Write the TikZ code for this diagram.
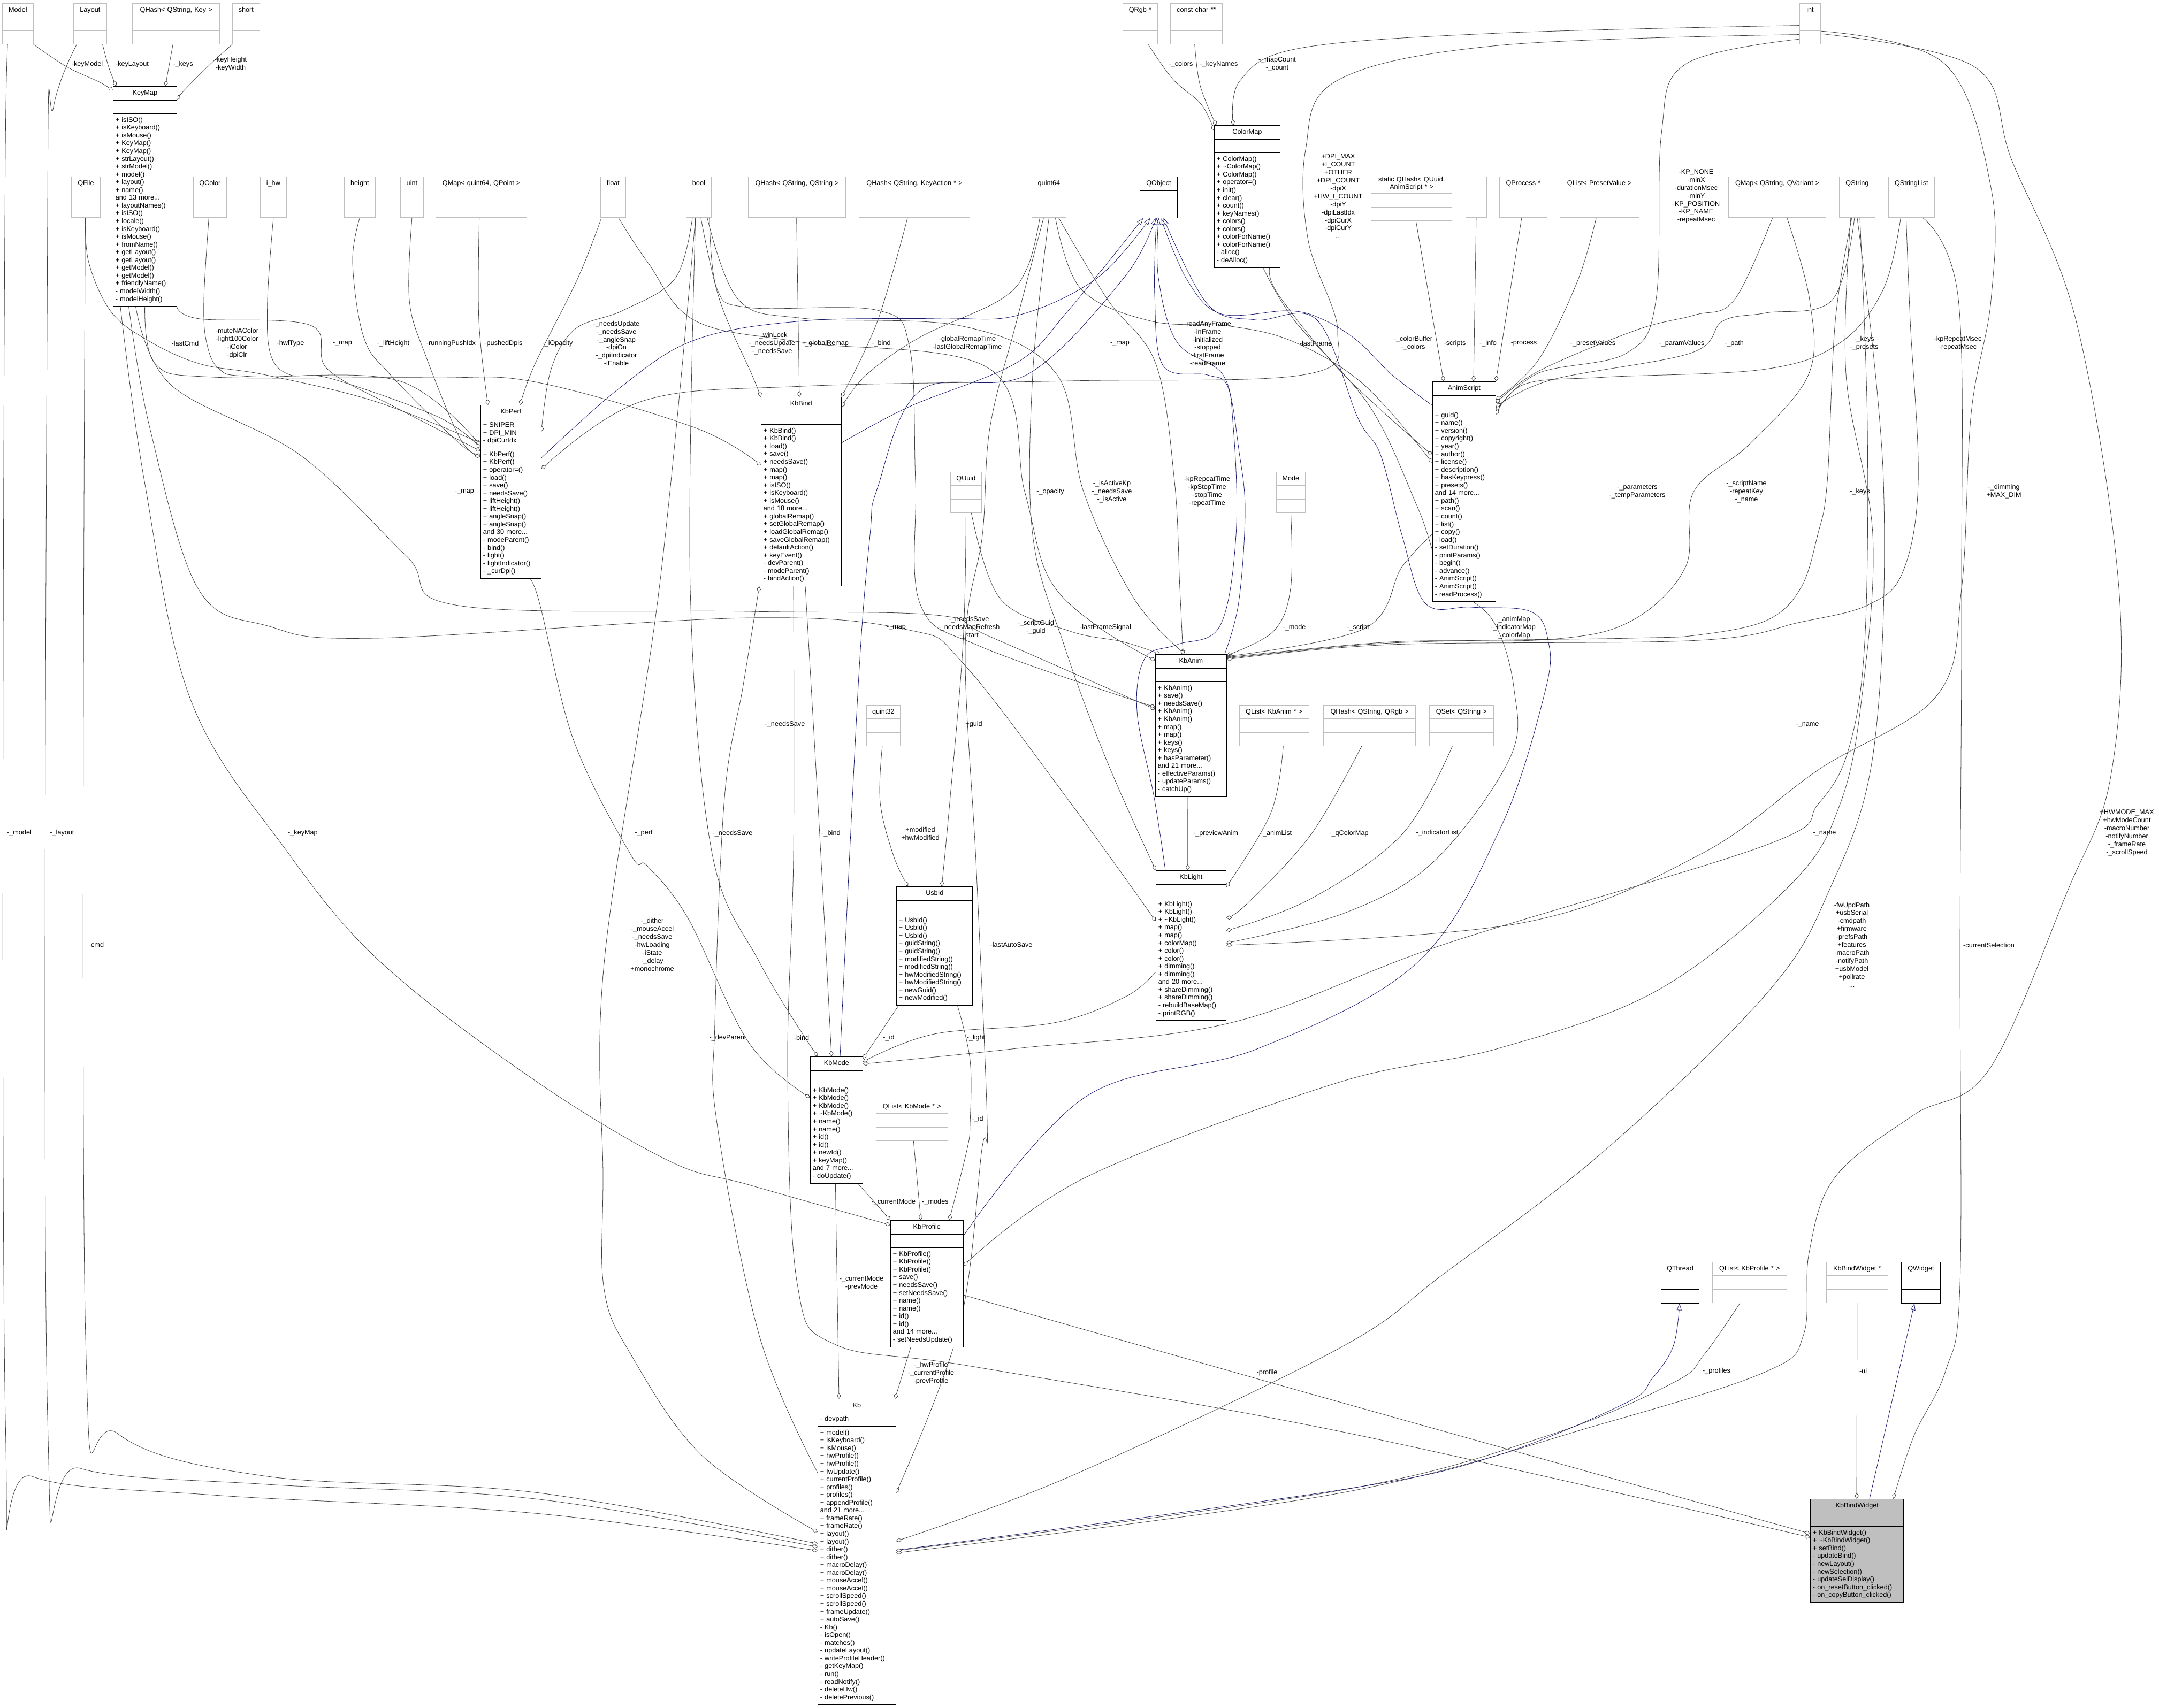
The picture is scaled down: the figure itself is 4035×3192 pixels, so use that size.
\documentclass[tikz,border=0pt]{standalone}
\usepackage{fontspec}
\setmainfont{Liberation Sans}
\usetikzlibrary{arrows.meta,backgrounds,shapes.multipart}
\definecolor{ink}{HTML}{000000}
\definecolor{edge}{HTML}{3F3F3F}
\definecolor{inhline}{HTML}{191970}
\definecolor{extline}{HTML}{BFBFBF}
\definecolor{selfill}{HTML}{BFBFBF}
\newcommand{\boxfont}{\fontsize{9}{10.35}\selectfont}
\newcommand{\lblfont}{\fontsize{9}{10.6}\selectfont}
\newcommand{\xt}[1]{\strut#1\nodepart{two}\strut\nodepart{three}\strut}
\newcommand{\hd}[1]{\strut\hfill#1\hfill\null}
\tikzset{
  cls/.style={rectangle split, rectangle split parts=3, draw=ink, line width=0.8pt,
              fill=white, font=\boxfont, align=left, inner xsep=3pt, inner ysep=3.5pt,
              anchor=north west, text width=#1},
  ext/.style={cls=#1, align=center, draw=extline, line width=0.7pt},
  base/.style={cls=#1, align=center},
  sel/.style={cls=#1, fill=selfill},
  lbl/.style={font=\lblfont, align=center, inner sep=0pt},
  agg/.style={draw=edge, line width=0.55pt, smooth, tension=0.6,
              -{Diamond[fill=white,length=8pt,width=5.5pt]}},
  inh/.style={draw=inhline, line width=0.55pt, smooth, tension=0.6,
              -{Triangle[fill=white,length=9pt,width=6.5pt]}},
}
\begin{document}
\begin{tikzpicture}[x=0.025cm, y=-0.025cm]
\useasboundingbox (0,0) rectangle (4035,3192);
% top row
\node[ext=35.1pt] (model) at (4,6) {\xt{Model}};
\node[ext=37.9pt] (layout) at (137,6) {\xt{Layout}};
\node[ext=110.2pt] (qhkey) at (247,6) {\xt{QHash< QString, Key >}};
\node[ext=30.1pt] (short) at (434,6) {\xt{short}};
\node[ext=40.1pt] (qrgb) at (2098,6) {\xt{QRgb *}};
\node[ext=62.7pt] (cchar) at (2187,6) {\xt{const char **}};
\node[ext=21.6pt] (int) at (3363,6) {\xt{int}};
% second row
\node[ext=32.3pt] (qfile) at (133,330) {\xt{QFile}};
\node[ext=37.9pt] (qcolor) at (361,330) {\xt{QColor}};
\node[ext=28.7pt] (ihw) at (486,330) {\xt{i\_hw}};
\node[ext=35.1pt] (height) at (643,330) {\xt{height}};
\node[ext=24.5pt] (uint) at (748,330) {\xt{uint}};
\node[ext=115.2pt] (qmapqp) at (814,330) {\xt{QMap< quint64, QPoint >}};
\node[ext=27.3pt] (float) at (1122,330) {\xt{float}};
\node[ext=27.3pt] (bool) at (1282,330) {\xt{bool}};
\node[ext=123.7pt] (qhss) at (1398,330) {\xt{QHash< QString, QString >}};
\node[ext=141.4pt] (qhka) at (1605,330) {\xt{QHash< QString, KeyAction * >}};
\node[ext=39.4pt] (quintsf) at (1928,330) {\xt{quint64}};
\node[base=43.6pt] (qobject) at (2130,330) {\xt{QObject}};
\node[ext=101.7pt] (sqhash) at (2562,323) {\xt{static QHash< QUuid,\\AnimScript * >}};
\node[ext=21.6pt] (blank) at (2739,330) {\xt{}};
\node[ext=57.1pt] (qprocess) at (2802,330) {\xt{QProcess *}};
\node[ext=98.9pt] (qlpv) at (2915,330) {\xt{QList< PresetValue >}};
\node[ext=123.7pt] (qmapsv) at (3230,330) {\xt{QMap< QString, QVariant >}};
\node[ext=41.5pt] (qstring) at (3437,330) {\xt{QString}};
\node[ext=54.9pt] (qstrlist) at (3529,330) {\xt{QStringList}};
% middle types
\node[ext=35.1pt] (quuid) at (1776,882) {\xt{QUuid}};
\node[ext=32.3pt] (mode) at (2385,882) {\xt{Mode}};
\node[ext=38.6pt] (quint32) at (1619,1318) {\xt{quint32}};
\node[ext=86.1pt] (qlanim) at (2316,1318) {\xt{QList< KbAnim * >}};
\node[ext=116.6pt] (qhrgb) at (2473,1318) {\xt{QHash< QString, QRgb >}};
\node[ext=79pt] (qsetstr) at (2671,1318) {\xt{QSet< QString >}};
\node[ext=89pt] (qlmode) at (1637,2056) {\xt{QList< KbMode * >}};
\node[base=44.3pt] (qthread) at (3104,2359) {\xt{QThread}};
\node[ext=92.5pt] (qlprof) at (3200,2359) {\xt{QList< KbProfile * >}};
\node[ext=75.5pt] (kbwptr) at (3413,2359) {\xt{KbBindWidget *}};
\node[base=45.7pt] (qwidget) at (3553,2359) {\xt{QWidget}};
% classes
\node[cls=78.3pt] (keymap) at (211,161) {\hd{KeyMap}\nodepart{two}\strut\nodepart{three}\strut
  + isISO()\\+ isKeyboard()\\+ isMouse()\\+ KeyMap()\\+ KeyMap()\\+ strLayout()\\+ strModel()\\+ model()\\+ layout()\\+ name()\\and 13 more...\\+ layoutNames()\\+ isISO()\\+ locale()\\+ isKeyboard()\\+ isMouse()\\+ fromName()\\+ getLayout()\\+ getLayout()\\+ getModel()\\+ getModel()\\+ friendlyName()\\- modelWidth()\\- modelHeight()\strut};
\node[cls=81.2pt] (colormap) at (2269,234) {\hd{ColorMap}\nodepart{two}\strut\nodepart{three}\strut
  + ColorMap()\\+ \textasciitilde ColorMap()\\+ ColorMap()\\+ operator=()\\+ init()\\+ clear()\\+ count()\\+ keyNames()\\+ colors()\\+ colors()\\+ colorForName()\\+ colorForName()\\- alloc()\\- deAlloc()\strut};
\node[cls=74.1pt] (kbperf) at (898,757) {\hd{KbPerf}\nodepart{two}\strut + SNIPER\\+ DPI\_MIN\\- dpiCurIdx\strut\nodepart{three}\strut
  + KbPerf()\\+ KbPerf()\\+ operator=()\\+ load()\\+ save()\\+ needsSave()\\+ liftHeight()\\+ liftHeight()\\+ angleSnap()\\+ angleSnap()\\and 30 more...\\- modeParent()\\- bind()\\- light()\\- lightIndicator()\\- \_curDpi()\strut};
\node[cls=100.3pt] (kbbind) at (1422,742) {\hd{KbBind}\nodepart{two}\strut\nodepart{three}\strut
  + KbBind()\\+ KbBind()\\+ load()\\+ save()\\+ needsSave()\\+ map()\\+ map()\\+ isISO()\\+ isKeyboard()\\+ isMouse()\\and 18 more...\\+ globalRemap()\\+ setGlobalRemap()\\+ loadGlobalRemap()\\+ saveGlobalRemap()\\+ defaultAction()\\+ keyEvent()\\- devParent()\\- modeParent()\\- bindAction()\strut};
\node[cls=77.6pt] (animscript) at (2677,713) {\hd{AnimScript}\nodepart{two}\strut\nodepart{three}\strut
  + guid()\\+ name()\\+ version()\\+ copyright()\\+ year()\\+ author()\\+ license()\\+ description()\\+ hasKeypress()\\+ presets()\\and 14 more...\\+ path()\\+ scan()\\+ count()\\+ list()\\+ copy()\\- load()\\- setDuration()\\- printParams()\\- begin()\\- advance()\\- AnimScript()\\- AnimScript()\\- readProcess()\strut};
\node[cls=88.3pt] (kbanim) at (2159,1223) {\hd{KbAnim}\nodepart{two}\strut\nodepart{three}\strut
  + KbAnim()\\+ save()\\+ needsSave()\\+ KbAnim()\\+ KbAnim()\\+ map()\\+ map()\\+ keys()\\+ keys()\\+ hasParameter()\\and 21 more...\\- effectiveParams()\\- updateParams()\\- catchUp()\strut};
\node[cls=86.8pt] (kblight) at (2160,1627) {\hd{KbLight}\nodepart{two}\strut\nodepart{three}\strut
  + KbLight()\\+ KbLight()\\+ \textasciitilde KbLight()\\+ map()\\+ map()\\+ colorMap()\\+ color()\\+ color()\\+ dimming()\\+ dimming()\\and 20 more...\\+ shareDimming()\\+ shareDimming()\\- rebuildBaseMap()\\- printRGB()\strut};
\node[cls=95.3pt] (usbid) at (1675,1657) {\hd{UsbId}\nodepart{two}\strut\nodepart{three}\strut
  + UsbId()\\+ UsbId()\\+ UsbId()\\+ guidString()\\+ guidString()\\+ modifiedString()\\+ modifiedString()\\+ hwModifiedString()\\+ hwModifiedString()\\+ newGuid()\\+ newModified()\strut};
\node[cls=63.4pt] (kbmode) at (1514,1975) {\hd{KbMode}\nodepart{two}\strut\nodepart{three}\strut
  + KbMode()\\+ KbMode()\\+ KbMode()\\+ \textasciitilde KbMode()\\+ name()\\+ name()\\+ id()\\+ id()\\+ newId()\\+ keyMap()\\and 7 more...\\- doUpdate()\strut};
\node[cls=90.4pt] (kbprofile) at (1664,2281) {\hd{KbProfile}\nodepart{two}\strut\nodepart{three}\strut
  + KbProfile()\\+ KbProfile()\\+ KbProfile()\\+ save()\\+ needsSave()\\+ setNeedsSave()\\+ name()\\+ name()\\+ id()\\+ id()\\and 14 more...\\- setNeedsUpdate()\strut};
\node[cls=97.5pt] (kb) at (1528,2615) {\hd{Kb}\nodepart{two}\strut - devpath\strut\nodepart{three}\strut
  + model()\\+ isKeyboard()\\+ isMouse()\\+ hwProfile()\\+ hwProfile()\\+ fwUpdate()\\+ currentProfile()\\+ profiles()\\+ profiles()\\+ appendProfile()\\and 21 more...\\+ frameRate()\\+ frameRate()\\+ layout()\\+ layout()\\+ dither()\\+ dither()\\+ macroDelay()\\+ macroDelay()\\+ mouseAccel()\\+ mouseAccel()\\+ scrollSpeed()\\+ scrollSpeed()\\+ frameUpdate()\\+ autoSave()\\- Kb()\\- isOpen()\\- matches()\\- updateLayout()\\- writeProfileHeader()\\- getKeyMap()\\- run()\\- readNotify()\\- deleteHw()\\- deletePrevious()\strut};
\node[sel=118pt] (kbw) at (3383,2802) {\hd{KbBindWidget}\nodepart{two}\strut\nodepart{three}\strut
  + KbBindWidget()\\+ \textasciitilde KbBindWidget()\\+ setBind()\\- updateBind()\\- newLayout()\\- newSelection()\\- updateSelDisplay()\\- on\_resetButton\_clicked()\\- on\_copyButton\_clicked()\strut};
% member labels
\node[lbl] (lb-keymodel) at (163,120) {-keyModel};
\node[lbl] (lb-keylayout) at (247,120) {-keyLayout};
\node[lbl] (lb-keys) at (342,120) {-\_keys};
\node[lbl] (lb-keyheight) at (431,120) {-keyHeight\\-keyWidth};
\node[lbl] (lb-colors) at (2207,120) {-\_colors};
\node[lbl] (lb-keynames) at (2278,120) {-\_keyNames};
\node[lbl] (lb-mapcount) at (2387,120) {-\_mapCount\\-\_count};
\node[lbl] (lb-lastcmd) at (346,642) {-lastCmd};
\node[lbl] (lb-mutena) at (443,642) {-muteNAColor\\-light100Color\\-iColor\\-dpiClr};
\node[lbl] (lb-hwltype) at (543,642) {-hwlType};
\node[lbl] (lb-pmap) at (640,642) {-\_map};
\node[lbl] (lb-lift) at (735,642) {-\_liftHeight};
\node[lbl] (lb-runpush) at (843,642) {-runningPushIdx};
\node[lbl] (lb-pushed) at (941,642) {-pushedDpis};
\node[lbl] (lb-iopac) at (1042,642) {-\_iOpacity};
\node[lbl] (lb-pbool) at (1152,642) {-\_needsUpdate\\-\_needsSave\\-\_angleSnap\\-dpiOn\\-\_dpiIndicator\\-iEnable};
\node[lbl] (lb-winlock) at (1443,642) {-\_winLock\\-\_needsUpdate\\-\_needsSave};
\node[lbl] (lb-gremap) at (1543,642) {-\_globalRemap};
\node[lbl] (lb-bbind) at (1647,642) {-\_bind};
\node[lbl] (lb-gtime) at (1808,642) {-globalRemapTime\\-lastGlobalRemapTime};
\node[lbl] (lb-qmap) at (2093,642) {-\_map};
\node[lbl] (lb-frames) at (2257,642) {-readAnyFrame\\-inFrame\\-initialized\\-stopped\\-firstFrame\\-readFrame};
\node[lbl] (lb-lastframe) at (2459,642) {-lastFrame};
\node[lbl] (lb-cbuf) at (2641,642) {-\_colorBuffer\\-\_colors};
\node[lbl] (lb-scripts) at (2719,642) {-scripts};
\node[lbl] (lb-info) at (2781,642) {-\_info};
\node[lbl] (lb-process) at (2848,642) {-process};
\node[lbl] (lb-preset) at (2977,642) {-\_presetValues};
\node[lbl] (lb-paramv) at (3143,642) {-\_paramValues};
\node[lbl] (lb-path) at (3241,642) {-\_path};
\node[lbl] (lb-keyspre) at (3484,642) {-\_keys\\-\_presets};
\node[lbl] (lb-kprep) at (3659,642) {-kpRepeatMsec\\-repeatMsec};
\node[lbl] (lb-dpimax) at (2501,367) {+DPI\_MAX\\+I\_COUNT\\+OTHER\\+DPI\_COUNT\\-dpiX\\+HW\_I\_COUNT\\-dpiY\\-dpiLastIdx\\-dpiCurX\\-dpiCurY\\...};
\node[lbl] (lb-kpnone) at (3170,367) {-KP\_NONE\\-minX\\-durationMsec\\-minY\\-KP\_POSITION\\-KP\_NAME\\-repeatMsec};
\node[lbl] (lb-opacity) at (1963,919) {-\_opacity};
\node[lbl] (lb-isactive) at (2078,919) {-\_isActiveKp\\-\_needsSave\\-\_isActive};
\node[lbl] (lb-kptime) at (2256,919) {-kpRepeatTime\\-kpStopTime\\-stopTime\\-repeatTime};
\node[lbl] (lb-amap) at (868,919) {-\_map};
\node[lbl] (lb-params) at (3060,919) {-\_parameters\\-\_tempParameters};
\node[lbl] (lb-scriptname) at (3264,919) {-\_scriptName\\-repeatKey\\-\_name};
\node[lbl] (lb-akeys) at (3476,919) {-\_keys};
\node[lbl] (lb-dimming) at (3745,919) {-\_dimming\\+MAX\_DIM};
\node[lbl] (lb-maprefresh) at (1811,1173) {-\_needsSave\\-\_needsMapRefresh\\-\_start};
\node[lbl] (lb-lmap) at (1675,1173) {-\_map};
\node[lbl] (lb-guid) at (1936,1173) {-\_scriptGuid\\-\_guid};
\node[lbl] (lb-lfsig) at (2066,1173) {-lastFrameSignal};
\node[lbl] (lb-mode) at (2419,1173) {-\_mode};
\node[lbl] (lb-script) at (2538,1173) {-\_script};
\node[lbl] (lb-animmap) at (2828,1173) {-\_animMap\\-\_indicatorMap\\-\_colorMap};
\node[lbl] (lb-bsave) at (1467,1354) {-\_needsSave};
\node[lbl] (lb-pguid) at (1820,1354) {+guid};
\node[lbl] (lb-msave) at (1369,1558) {-\_needsSave};
\node[lbl] (lb-mbind) at (1553,1558) {-\_bind};
\node[lbl] (lb-modified) at (1720,1558) {+modified\\+hwModified};
\node[lbl] (lb-preview) at (2272,1558) {-\_previewAnim};
\node[lbl] (lb-animlist) at (2385,1558) {-\_animList};
\node[lbl] (lb-qcmap) at (2521,1558) {-\_qColorMap};
\node[lbl] (lb-indlist) at (2686,1557) {-\_indicatorList};
\node[lbl] (lb-mname) at (3378,1355) {-\_name};
\node[lbl] (lb-autosave) at (1890,1766) {-lastAutoSave};
\node[lbl] (lb-devparent) at (1360,1940) {-\_devParent};
\node[lbl] (lb-wbind) at (1498,1940) {-bind};
\node[lbl] (lb-mid) at (1661,1940) {-\_id};
\node[lbl] (lb-light) at (1824,1940) {-\_light};
\node[lbl] (lb-pid) at (1827,2092) {-\_id};
\node[lbl] (lb-keymap) at (566,1557) {-\_keyMap};
\node[lbl] (lb-perf) at (1203,1557) {-\_perf};
\node[lbl] (lb-model) at (36,1557) {-\_model};
\node[lbl] (lb-layout) at (116,1557) {-\_layout};
\node[lbl] (lb-cmd) at (180,1766) {-cmd};
\node[lbl] (lb-dither) at (1219,1766) {-\_dither\\-\_mouseAccel\\-\_needsSave\\-hwLoading\\-iState\\-\_delay\\+monochrome};
\node[lbl] (lb-curmode) at (1670,2247) {-\_currentMode};
\node[lbl] (lb-modes) at (1748,2247) {-\_modes};
\node[lbl] (lb-prevmode) at (1610,2399) {-\_currentMode\\-prevMode};
\node[lbl] (lb-hwprof) at (1740,2567) {-\_hwProfile\\-\_currentProfile\\-prevProfile};
\node[lbl] (lb-profile) at (2368,2566) {-profile};
\node[lbl] (lb-profiles) at (3208,2563) {-\_profiles};
\node[lbl] (lb-ui) at (3482,2563) {-ui};
\node[lbl] (lb-cursel) at (3717,1767) {-currentSelection};
\node[lbl] (lb-hwmode) at (3975,1557) {+HWMODE\_MAX\\+hwModeCount\\-macroNumber\\-notifyNumber\\-\_frameRate\\-\_scrollSpeed};
\node[lbl] (lb-fwupd) at (3461,1766) {-fwUpdPath\\+usbSerial\\-cmdpath\\+firmware\\-prefsPath\\+features\\-macroPath\\-notifyPath\\+usbModel\\+pollrate\\...};
\node[lbl] (lb-pname) at (3410,1558) {-\_name};
\begin{scope}[on background layer]
\fill[white] (0,0) rectangle (4035,3192);
% KeyMap and ColorMap members
\draw[agg] plot coordinates {(model.south east) (125,125) (185,153) ([shift={(0,8)}]keymap.north west)};
\draw[agg] plot coordinates {([shift={(-8,0)}]layout.south east) (203,125) ([shift={(6,0)}]keymap.north west)};
\draw[agg] plot coordinates {([shift={(-6,0)}]qhkey.south) ([shift={(98,0)}]keymap.north west)};
\draw[agg] plot coordinates {(short.south west) (395,118) (345,168) ([shift={(0,26)}]keymap.north east)};
\draw[agg] plot coordinates {([shift={(15,0)}]qrgb.south) (2192,148) (2245,195) ([shift={(0,10)}]colormap.north west)};
\draw[agg] plot coordinates {([shift={(-3,0)}]cchar.south) (2243,160) ([shift={(4,0)}]colormap.north west)};
\draw[agg] plot coordinates {([shift={(0,3)}]int.west) (2800,62) (2430,90) (2318,150) ([shift={(36,0)}]colormap.north west)};
% KbPerf members
\draw[agg] plot coordinates {([shift={(-1,0)}]qfile.south) (166,491) (207,582) (274,635) (373,680) (497,701) (700,750) ([shift={(0,71)}]kbperf.north west)};
\draw[agg] plot coordinates {([shift={(-2,0)}]qcolor.south) (381,560) (386,640) (410,690) (470,704) (746,712) ([shift={(0,76)}]kbperf.north west)};
\draw[agg] plot coordinates {(ihw.south) (500,560) (505,660) (540,700) (620,708) (820,780) ([shift={(0,81)}]kbperf.north west)};
\draw[agg] plot coordinates {(keymap.south east) (373,596) (580,608) (612,690) (746,765) ([shift={(0,86)}]kbperf.north west)};
\draw[agg] plot coordinates {(height.south) (659,491) (680,631) (730,701) (860,830) ([shift={(0,91)}]kbperf.north west)};
\draw[agg] plot coordinates {(uint.south) (765,561) (796,666) (860,820) ([shift={(0,96)}]kbperf.north west)};
\draw[agg] plot coordinates {([shift={(-4,0)}]qmapqp.south) (895,600) ([shift={(14,0)}]kbperf.north west)};
\draw[agg] plot coordinates {([shift={(2,0)}]float.south west) (1080,520) (1000,680) ([shift={(74,0)}]kbperf.north west)};
\draw[agg] plot coordinates {([shift={(12,0)}]bool.south west) (1262,520) (1165,580) (1075,615) (1030,690) ([shift={(0,50)}]kbperf.north east)};
\draw[agg] plot coordinates {([shift={(0,20)}]int.west) (2800,85) (2500,150) (2440,280) (2445,450) (2500,620) (2440,700) (2000,712) (1500,722) (1200,750) ([shift={(0,120)}]kbperf.north east)};
% KbBind members
\draw[agg] plot coordinates {([shift={(-20,0)}]bool.south east) (1345,561) (1405,700) (kbbind.north west)};
\draw[agg] plot coordinates {([shift={(-1,0)}]qhss.south) ([shift={(72,0)}]kbbind.north west)};
\draw[agg] plot coordinates {([shift={(-13,0)}]qhka.south) (1640,600) (kbbind.north east)};
\draw[agg] plot coordinates {([shift={(-17,0)}]quintsf.south) (1920,500) (1870,560) (1720,630) (1620,700) ([shift={(0,19)}]kbbind.north east)};
\draw[agg] plot coordinates {([shift={(-60,0)}]keymap.south east) (290,680) (400,705) (800,706) (1000,714) (1300,800) ([shift={(0,128)}]kbbind.north west)};
\draw[agg] plot coordinates {([shift={(0,138)}]kb.north west) (1420,2500) (1340,2100) (1336,1912) (1354,1491) (1389,1281) ([shift={(-3,0)}]kbbind.south west)};
% AnimScript members
\draw[agg] plot coordinates {([shift={(8,0)}]sqhash.south) ([shift={(21,0)}]animscript.north west)};
\draw[agg] plot coordinates {(blank.south) ([shift={(77,0)}]animscript.north west)};
\draw[agg] plot coordinates {([shift={(-3,0)}]qprocess.south) (animscript.north east)};
\draw[agg] plot coordinates {([shift={(-6,0)}]qlpv.south) (2948,526) (2875,673) ([shift={(0,34)}]animscript.north east)};
\draw[agg] plot coordinates {([shift={(-9,0)}]qmapsv.south) (3241,561) (3167,589) (3058,617) (2875,694) ([shift={(0,41)}]animscript.north east)};
\draw[agg] plot coordinates {([shift={(-5,0)}]qstring.south) (3424,561) (3300,585) (3220,600) (3160,660) (2900,710) ([shift={(0,48)}]animscript.north east)};
\draw[agg] plot coordinates {([shift={(0,-10)}]int.south west) (3150,120) (3105,250) (3095,560) (3040,660) (2874,698) ([shift={(0,55)}]animscript.north east)};
\draw[agg] plot coordinates {([shift={(-20,0)}]qstrlist.south) (3520,540) (3440,640) (3300,690) (3000,705) (2850,718) ([shift={(0,62)}]animscript.north east)};
\draw[agg] plot coordinates {([shift={(-20,0)}]colormap.south east) (2390,552) (2512,701) ([shift={(0,138)}]animscript.north west)};
\draw[agg] plot coordinates {([shift={(12,0)}]quintsf.south) (2020,540) (2150,600) (2300,610) (2420,640) (2550,720) ([shift={(0,152)}]animscript.north west)};
% KbAnim members
\draw[agg] plot coordinates {([shift={(10,0)}]quuid.south) (1870,1120) (2000,1180) (2100,1200) ([shift={(9,0)}]kbanim.north west)};
\draw[agg] plot coordinates {([shift={(18,0)}]quintsf.south) (2070,560) (2160,680) (2195,900) (2205,1100) ([shift={(52,0)}]kbanim.north west)};
\draw[agg] plot coordinates {([shift={(-8,0)}]bool.south east) (1380,560) (1500,595) (1800,610) (1975,700) (2025,919) (2120,1120) ([shift={(56,0)}]kbanim.north west)};
\draw[agg] plot coordinates {([shift={(10,0)}]float.south) (1211,491) (1300,600) (1500,640) (1850,690) (1915,919) (1960,1080) (2050,1170) ([shift={(0,12)}]kbanim.north west)};
\draw[agg] plot coordinates {([shift={(-77,0)}]keymap.south east) (320,720) (560,850) (760,1040) (857,1132) (1400,1143) (1750,1150) (1850,1190) ([shift={(0,103)}]kbanim.north west)};
\draw[agg] plot coordinates {([shift={(-4,0)}]bool.south east) (1340,540) (1400,575) (1640,580) (1700,650) (1711,900) (1720,1130) (1836,1210) ([shift={(0,99)}]kbanim.north west)};
\draw[agg] plot coordinates {(mode.south) (2412,1100) (2380,1180) ([shift={(0,2)}]kbanim.north east)};
\draw[agg] plot coordinates {([shift={(0,-127)}]animscript.south west) (2620,1060) (2550,1175) ([shift={(0,4)}]kbanim.north east)};
\draw[agg] plot coordinates {([shift={(18,0)}]qmapsv.south) (3382,561) (3380,700) (3270,830) (3165,920) (3150,1060) (3050,1160) (2900,1195) (2600,1200) ([shift={(0,6)}]kbanim.north east)};
\draw[agg] plot coordinates {([shift={(-10,0)}]qstring.south) (3430,600) (3415,900) (3397,1000) (3365,1100) (3301,1160) (3174,1187) (3046,1193) (2600,1202) ([shift={(0,8)}]kbanim.north east)};
\draw[agg] plot coordinates {([shift={(-10,0)}]qstrlist.south) (3570,600) (3585,900) (3557,1067) (3493,1130) (3365,1163) (3174,1197) (2600,1205) ([shift={(0,10)}]kbanim.north east)};
% KbLight members
\draw[agg] plot coordinates {([shift={(-6,0)}]kbanim.south) ([shift={(-6,0)}]kblight.north)};
\draw[agg] plot coordinates {([shift={(17,0)}]qlanim.south) (2375,1520) ([shift={(0,31)}]kblight.north east)};
\draw[agg] plot coordinates {([shift={(-15,0)}]qhrgb.south) (2450,1560) (2330,1690) ([shift={(0,88)}]kblight.north east)};
\draw[agg] plot coordinates {([shift={(-17,0)}]qsetstr.south) (2620,1560) (2450,1680) ([shift={(0,113)}]kblight.north east)};
\draw[agg] plot coordinates {([shift={(-32,0)}]colormap.south east) (2420,600) (2560,760) (2650,950) (2700,1080) (2790,1160) (2830,1291) (2821,1419) (2680,1610) (2515,1706) ([shift={(0,136)}]kblight.north east)};
\draw[agg] plot coordinates {([shift={(0,-25)}]int.south east) (3634,119) (3721,351) (3721,561) (3684,772) (3666,1100) (3620,1300) (3400,1438) (3178,1597) (2846,1725) ([shift={(0,140)}]kblight.north east)};
\draw[agg] plot coordinates {([shift={(-90,0)}]keymap.south east) (280,800) (370,1100) (500,1170) (700,1193) (1400,1155) (1700,1178) (1800,1240) (2000,1500) ([shift={(0,95)}]kblight.north west)};
\draw[agg] plot coordinates {(quintsf.south) (1930,700) (1930,1000) (1990,1210) (2068,1421) (kblight.north west)};
% UsbId members
\draw[agg] plot coordinates {([shift={(-2,0)}]quint32.south) (1645,1500) (1670,1600) ([shift={(22,0)}]usbid.north west)};
\draw[agg] plot coordinates {(quuid.south) (1800,1200) (1775,1500) ([shift={(85,0)}]usbid.north west)};
% KbMode members
\draw[agg] plot coordinates {([shift={(62,0)}]kbperf.south west) (1000,1100) (1071,1381) (1179,1598) (1210,1619) (1286,1717) (1400,1950) ([shift={(0,77)}]kbmode.north west)};
\draw[agg] plot coordinates {([shift={(83,0)}]kbbind.south west) (1532,1561) ([shift={(40,0)}]kbmode.north west)};
\draw[agg] plot coordinates {([shift={(-30,0)}]bool.south east) (1290,1100) (1330,1591) (1420,1800) ([shift={(14,0)}]kbmode.north west)};
\draw[agg] plot coordinates {([shift={(4,0)}]usbid.south west) (1639,1940) ([shift={(0,4)}]kbmode.north east)};
\draw[agg] plot coordinates {([shift={(0,190)}]kblight.north west) (2104,1863) (1970,1912) (1746,1933) ([shift={(0,10)}]kbmode.north east)};
\draw[agg] plot coordinates {([shift={(5,0)}]qstring.south) (3490,800) (3485,1200) (3455,1400) (3398,1503) (3300,1580) (2700,1765) (2300,1912) (1900,1960) ([shift={(0,14)}]kbmode.north east)};
% KbProfile members
\draw[agg] plot coordinates {([shift={(14,0)}]keymap.south west) (270,900) (357,1310) (536,1591) (714,1801) (1000,2020) (1250,2170) (1400,2215) ([shift={(0,9)}]kbprofile.north west)};
\draw[agg] plot coordinates {([shift={(-9,0)}]kbmode.south east) (kbprofile.north west)};
\draw[agg] plot coordinates {([shift={(3,0)}]qlmode.south) ([shift={(57,0)}]kbprofile.north west)};
\draw[agg] plot coordinates {([shift={(-29,0)}]usbid.south east) (1813,1982) (1813,2100) (1807,2150) ([shift={(110,0)}]kbprofile.north west)};
\draw[agg] plot coordinates {([shift={(-12,0)}]qstring.south) (3450,700) (3500,1000) (3480,1300) (3440,1500) (3350,1650) (3100,1850) (2800,1960) (2500,2024) (2031,2200) ([shift={(0,85)}]kbprofile.north east)};
% Kb members
\draw[agg] plot coordinates {([shift={(-2,0)}]model.south) (10,281) (10,2650) (60,2760) (400,2795) (1000,2829) ([shift={(0,284)}]kb.north west)};
\draw[agg] plot coordinates {([shift={(-25,0)}]layout.south) (100,200) (89,400) (89,2650) (150,2745) (500,2775) (1000,2802) ([shift={(0,277)}]kb.north west)};
\draw[agg] plot coordinates {([shift={(-1,0)}]qfile.south) (160,2500) (220,2680) (500,2760) (1000,2790) ([shift={(0,271)}]kb.north west)};
\draw[agg] plot coordinates {([shift={(-30,0)}]bool.south east) (1232,1100) (1129,1801) (1127,2200) (1129,2410) (1179,2532) (1313,2722) ([shift={(0,249)}]kb.north west)};
\draw[agg] plot coordinates {([shift={(-2,0)}]kbmode.south) ([shift={(40,0)}]kb.north west)};
\draw[agg] plot coordinates {([shift={(38,0)}]kbprofile.south west) ([shift={(-2,0)}]kb.north east)};
\draw[agg] plot coordinates {([shift={(-10,0)}]quintsf.south) (1900,600) (1850,800) (1836,1000) (1804,1210) (1825,1631) (1845,2100) (1835,2149) (1793,2480) ([shift={(0,176)}]kb.north east)};
\draw[agg] plot coordinates {(qstring.south) (3520,900) (3502,1400) (3417,1668) (3300,1859) (3000,2150) (2700,2380) (2500,2522) (2000,2760) ([shift={(0,266)}]kb.north east)};
\draw[agg] plot coordinates {([shift={(0,-20)}]int.south east) (3690,125) (3760,300) (3880,600) (3960,1100) (3945,1450) (3863,1668) (3717,2000) (3577,2084) (3430,2200) (3381,2342) (3371,2494) (3303,2563) (3000,2660) (2500,2792) ([shift={(0,288)}]kb.north east)};
\draw[agg] plot coordinates {([shift={(-18,0)}]qlprof.south) (3185,2532) (3127,2585) (2892,2684) (2500,2787) ([shift={(0,284)}]kb.north east)};
% KbBindWidget members
\draw[agg] plot coordinates {([shift={(61,0)}]kbbind.south west) (1483,1600) (1472,2000) (1490,2400) (1560,2513) (1821,2555) (2500,2675) ([shift={(0,72)}]kbw.north west)};
\draw[agg] plot coordinates {([shift={(0,140)}]kbprofile.north east) (2500,2620) ([shift={(0,65)}]kbw.north west)};
\draw[agg] plot coordinates {(kbwptr.south) ([shift={(87,0)}]kbw.north west)};
\draw[agg] plot coordinates {([shift={(21,0)}]qstrlist.south) (3660,560) (3666,1100) (3663,1767) (3663,2400) (3636,2563) (3577,2684) ([shift={(-20,0)}]kbw.north east)};
% inheritance
\draw[inh] plot coordinates {([shift={(0,99)}]kbperf.north east) (1161,723) (1300,635) (1500,600) (1750,595) (1900,590) (2050,520) ([shift={(-16,0)}]qobject.south)};
\draw[inh] plot coordinates {([shift={(0,86)}]kbbind.north east) (1700,760) (1900,678) (1996,581) ([shift={(-29,0)}]qobject.south)};
\draw[inh] plot coordinates {([shift={(56,0)}]kbmode.north west) (1604,1281) (1626,1000) (1640,912) (1720,730) (1920,700) (2100,520) ([shift={(-6,0)}]qobject.south)};
\draw[inh] plot coordinates {([shift={(0,29)}]kbprofile.north east) (2031,2049) (2349,1961) (2647,1801) (2805,1546) (2888,1291) (2893,1196) (2860,1143) (2750,1135) (2664,1128) (2620,1000) (2580,850) (2538,782) (2461,598) (2346,598) (2257,569) ([shift={(9,0)}]qobject.south)};
\draw[inh] plot coordinates {([shift={(18,0)}]kblight.north west) (2157,1491) (2125,1330) (2140,1230) (2200,1205) (2280,1170) (2310,1000) (2305,800) (2285,700) (2200,640) (2165,520) ([shift={(0,0)}]qobject.south)};
\draw[inh] plot coordinates {([shift={(-4,0)}]kbanim.north east) (2315,1126) (2327,954) (2315,839) (2295,724) (2257,701) (2174,684) (2158,552) ([shift={(-4,0)}]qobject.south)};
\draw[inh] plot coordinates {([shift={(0,45)}]animscript.north west) (2602,701) (2538,638) (2474,598) (2410,581) (2283,587) (2219,524) ([shift={(4,0)}]qobject.south)};
\draw[inh] plot coordinates {([shift={(0,283)}]kb.north east) (2500,2786) (2794,2722) (3038,2623) (3087,2578) (3127,2517) ([shift={(-1,0)}]qthread.south)};
\draw[inh] plot coordinates {([shift={(111,0)}]kbw.north west) ([shift={(-12,0)}]qwidget.south)};
\end{scope}
\end{tikzpicture}
\end{document}
